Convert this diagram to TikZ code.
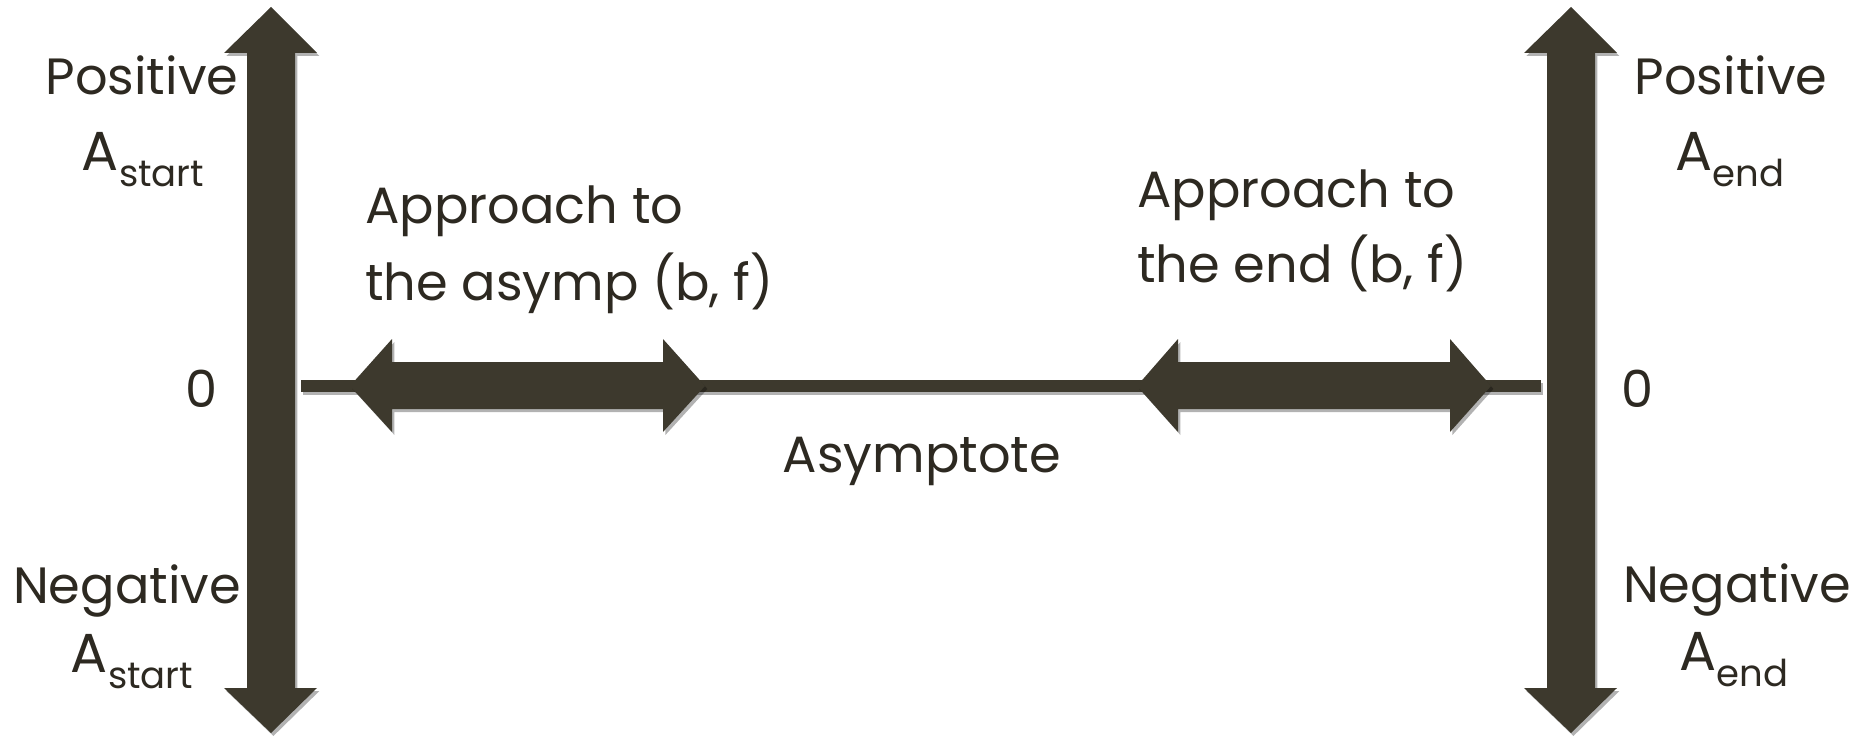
\documentclass[tikz,border=0pt]{standalone}
\usepackage{fontspec}
\setmainfont{Poppins}
\usetikzlibrary{shadows}
\definecolor{arrowc}{RGB}{61,57,45}
\definecolor{textc}{RGB}{45,41,33}
\newcommand{\Asub}[1]{{\fontsize{27.5}{30}\selectfont A}\raisebox{-8pt}{\fontsize{18.5}{22}\selectfont #1}}
\begin{document}
\begin{tikzpicture}[x=0.5pt,y=-0.5pt,
  arr/.style={fill=arrowc, draw=none, drop shadow={shadow xshift=1.2pt, shadow yshift=-1.5pt, opacity=0.3, fill=black}},
  lbl/.style={text=textc, font=\fontsize{25.5}{30}\selectfont, inner sep=0pt, anchor=base},
  lblw/.style={lbl, anchor=base west}]
\useasboundingbox (0,0) rectangle (1860,738);
% horizontal asymptote line
\fill[arr] (301,380) rectangle (1541,392);
% left vertical double arrow
\fill[arr] (271,7) -- (317,53) -- (295,53) -- (295,688) -- (317,688) -- (271,733) -- (224,688) -- (247,688) -- (247,53) -- (224,53) -- cycle;
% right vertical double arrow
\fill[arr] (1571,7) -- (1617,53) -- (1595,53) -- (1595,688) -- (1617,688) -- (1571,733) -- (1524,688) -- (1547,688) -- (1547,53) -- (1524,53) -- cycle;
% left horizontal double arrow
\fill[arr] (350,386) -- (392,339) -- (392,362) -- (663,362) -- (663,339) -- (705,386) -- (663,432) -- (663,409) -- (392,409) -- (392,432) -- cycle;
% right horizontal double arrow
\fill[arr] (1137,386) -- (1178,339) -- (1178,362) -- (1450,362) -- (1450,339) -- (1491,386) -- (1450,432) -- (1450,409) -- (1178,409) -- (1178,432) -- cycle;
% labels
\node[lbl] (posL) at (142,95) {Positive};
\node[lbl] (aposL) at (143,170) {\Asub{start}};
\node[lbl] (negL) at (127,603) {Negative};
\node[lbl] (anegL) at (132,672) {\Asub{start}};
\node[lbl] (zeroL) at (202,407) {0};
\node[lblw] (appL1) at (365,224) {Approach to};
\node[lblw] (appL2) at (365,300) {the asymp (b, f)};
\node[lbl] (asy) at (922,472) {Asymptote};
\node[lblw] (appR1) at (1137,207) {Approach to};
\node[lblw] (appR2) at (1137,283) {the end (b, f)};
\node[lbl] (zeroR) at (1638,407) {0};
\node[lbl] (posR) at (1731,95) {Positive};
\node[lbl] (aposR) at (1730,170) {\Asub{end}};
\node[lbl] (negR) at (1737,602) {Negative};
\node[lbl] (anegR) at (1734,670) {\Asub{end}};
\end{tikzpicture}
\end{document}
